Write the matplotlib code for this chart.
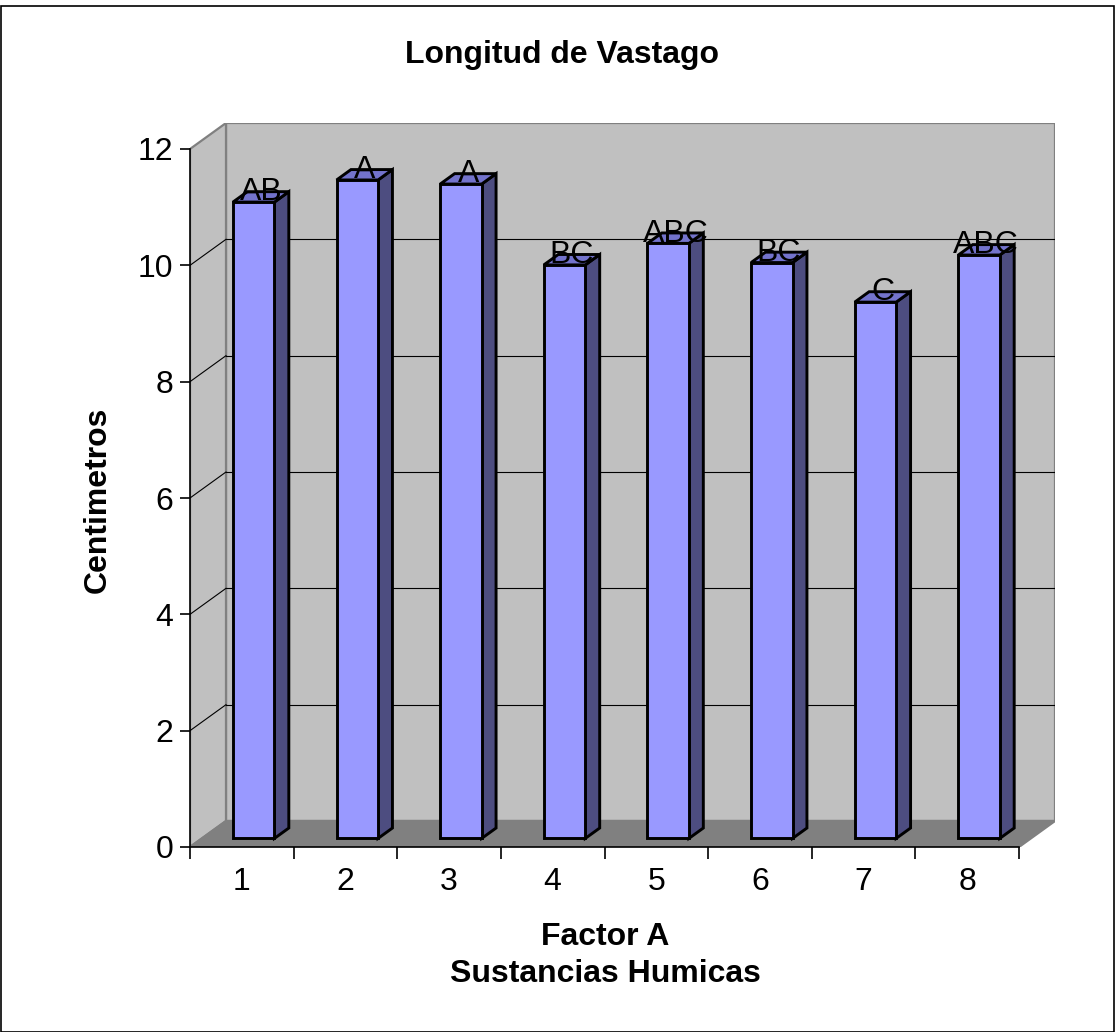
import matplotlib
matplotlib.use('Agg')
import matplotlib.pyplot as plt
from matplotlib.patches import Polygon, Rectangle

plt.rcParams['font.family'] = ['Liberation Sans', 'DejaVu Sans']

# datos
categorias = ['1', '2', '3', '4', '5', '6', '7', '8']
longitud = [10.94, 11.32, 11.25, 9.86, 10.23, 9.90, 9.22, 10.03]
letras = ['AB', 'A', 'A', 'BC', 'ABC', 'BC', 'C', 'ABC']
y_ticks = [0, 2, 4, 6, 8, 10, 12]

W, H = 1115, 1032
fs = 23
fig = plt.figure(figsize=(W / 100, H / 100), dpi=100)

# geometria del area de grafico (pixeles)
x0_px, x1_px = 190, 1019
y0_px, ytop_px = 847, 149
dx_px, dy_px = 36, 26
n = len(categorias)
ymax = y_ticks[-1]
ux = (x1_px - x0_px) / n
uy = (y0_px - ytop_px) / ymax
DX = dx_px / ux
DY = dy_px / uy

ax = fig.add_axes([x0_px / W, (H - y0_px) / H,
                   (x1_px + dx_px - x0_px) / W, (y0_px - ytop_px + dy_px) / H])
ax.set_xlim(0.5, n + 0.5 + DX)
ax.set_ylim(0, ymax + DY)
ax.patch.set_visible(False)


def P(x, y, d):
    return (x + d * DX, y + d * DY)


xa, xb = 0.5, n + 0.5
wall = '#C0C0C0'
edge = '#808080'

# paredes y piso
ax.add_patch(Polygon([P(xa, 0, 1), P(xb, 0, 1), P(xb, ymax, 1), P(xa, ymax, 1)],
                     closed=True, fc=wall, ec=edge, lw=1.6, zorder=1))
ax.add_patch(Polygon([P(xa, 0, 0), P(xa, 0, 1), P(xa, ymax, 1), P(xa, ymax, 0)],
                     closed=True, fc=wall, ec=edge, lw=1.6, zorder=1))
ax.add_patch(Polygon([P(xa, 0, 0), P(xb, 0, 0), P(xb, 0, 1), P(xa, 0, 1)],
                     closed=True, fc='#808080', ec=edge, lw=1.6, zorder=1))

# lineas de division
for t in y_ticks[1:-1]:
    a, b = P(xa, t, 1), P(xb, t, 1)
    ax.plot([a[0], b[0]], [a[1], b[1]], color='black', lw=0.8, zorder=2)
    a, b = P(xa, t, 0), P(xa, t, 1)
    ax.plot([a[0], b[0]], [a[1], b[1]], color='black', lw=0.8, zorder=2)

# barras 3D
w = 0.4
d0, d1 = 0.33, 0.73
for i, v in enumerate(longitud):
    xl, xr = i + 1 - w / 2, i + 1 + w / 2
    side = [P(xr, 0, d0), P(xr, 0, d1), P(xr, v, d1), P(xr, v, d0)]
    top = [P(xl, v, d0), P(xr, v, d0), P(xr, v, d1), P(xl, v, d1)]
    front = [P(xl, 0, d0), P(xr, 0, d0), P(xr, v, d0), P(xl, v, d0)]
    ax.add_patch(Polygon(side, closed=True, fc='#4D4D80', ec='black', lw=2.1, zorder=3))
    ax.add_patch(Polygon(top, closed=True, fc='#7373CC', ec='black', lw=2.1, zorder=3))
    ax.add_patch(Polygon(front, closed=True, fc='#9999FF', ec='black', lw=2.1, zorder=3))
    lx = P(i + 1, v, (d0 + d1) / 2)[0]
    ly = P(i + 1, v, d0)[1] + 0.03
    ax.text(lx, ly, letras[i], ha='center', va='baseline', fontsize=fs, zorder=5)

# ejes
for s in ['top', 'right']:
    ax.spines[s].set_visible(False)
ax.spines['left'].set_bounds(0, ymax)
ax.spines['bottom'].set_bounds(xa, xb)
ax.spines['left'].set_linewidth(1.2)
ax.spines['bottom'].set_linewidth(1.2)
ax.spines['left'].set_zorder(4)
ax.spines['bottom'].set_zorder(4)
ax.set_yticks(y_ticks)
ax.set_yticklabels([str(t) for t in y_ticks])
ax.tick_params(axis='y', direction='out', length=7.2, width=1.2, pad=5, labelsize=fs)
ax.set_xticks([k + 0.5 for k in range(n + 1)])
ax.set_xticklabels([''] * (n + 1))
ax.tick_params(axis='x', which='major', direction='out', length=8.6, width=1.2)
ax.set_xticks(list(range(1, n + 1)), minor=True)
ax.set_xticklabels(categorias, minor=True)
ax.tick_params(axis='x', which='minor', length=0, pad=14.5, labelsize=fs)

# titulos
fig.text(562 / W, 1 - 63 / H, 'Longitud de Vastago', ha='center', va='baseline',
         fontsize=fs, fontweight='bold')
fig.text(98 / W, 1 - 500 / H, 'Centimetros', ha='center', va='center',
         rotation=90, fontsize=fs, fontweight='bold')
fig.text(605 / W, 1 - 945 / H, 'Factor A', ha='center', va='baseline',
         fontsize=fs, fontweight='bold')
fig.text(605 / W, 1 - 982 / H, 'Sustancias Humicas', ha='center', va='baseline',
         fontsize=fs, fontweight='bold')

# borde
fig.patches.append(Rectangle((0.5 / W, 0.5 / H), (W - 2) / W, (H - 6) / H,
                             transform=fig.transFigure, fill=False,
                             ec='black', lw=1.2))

fig.savefig('out.png', dpi=100)
